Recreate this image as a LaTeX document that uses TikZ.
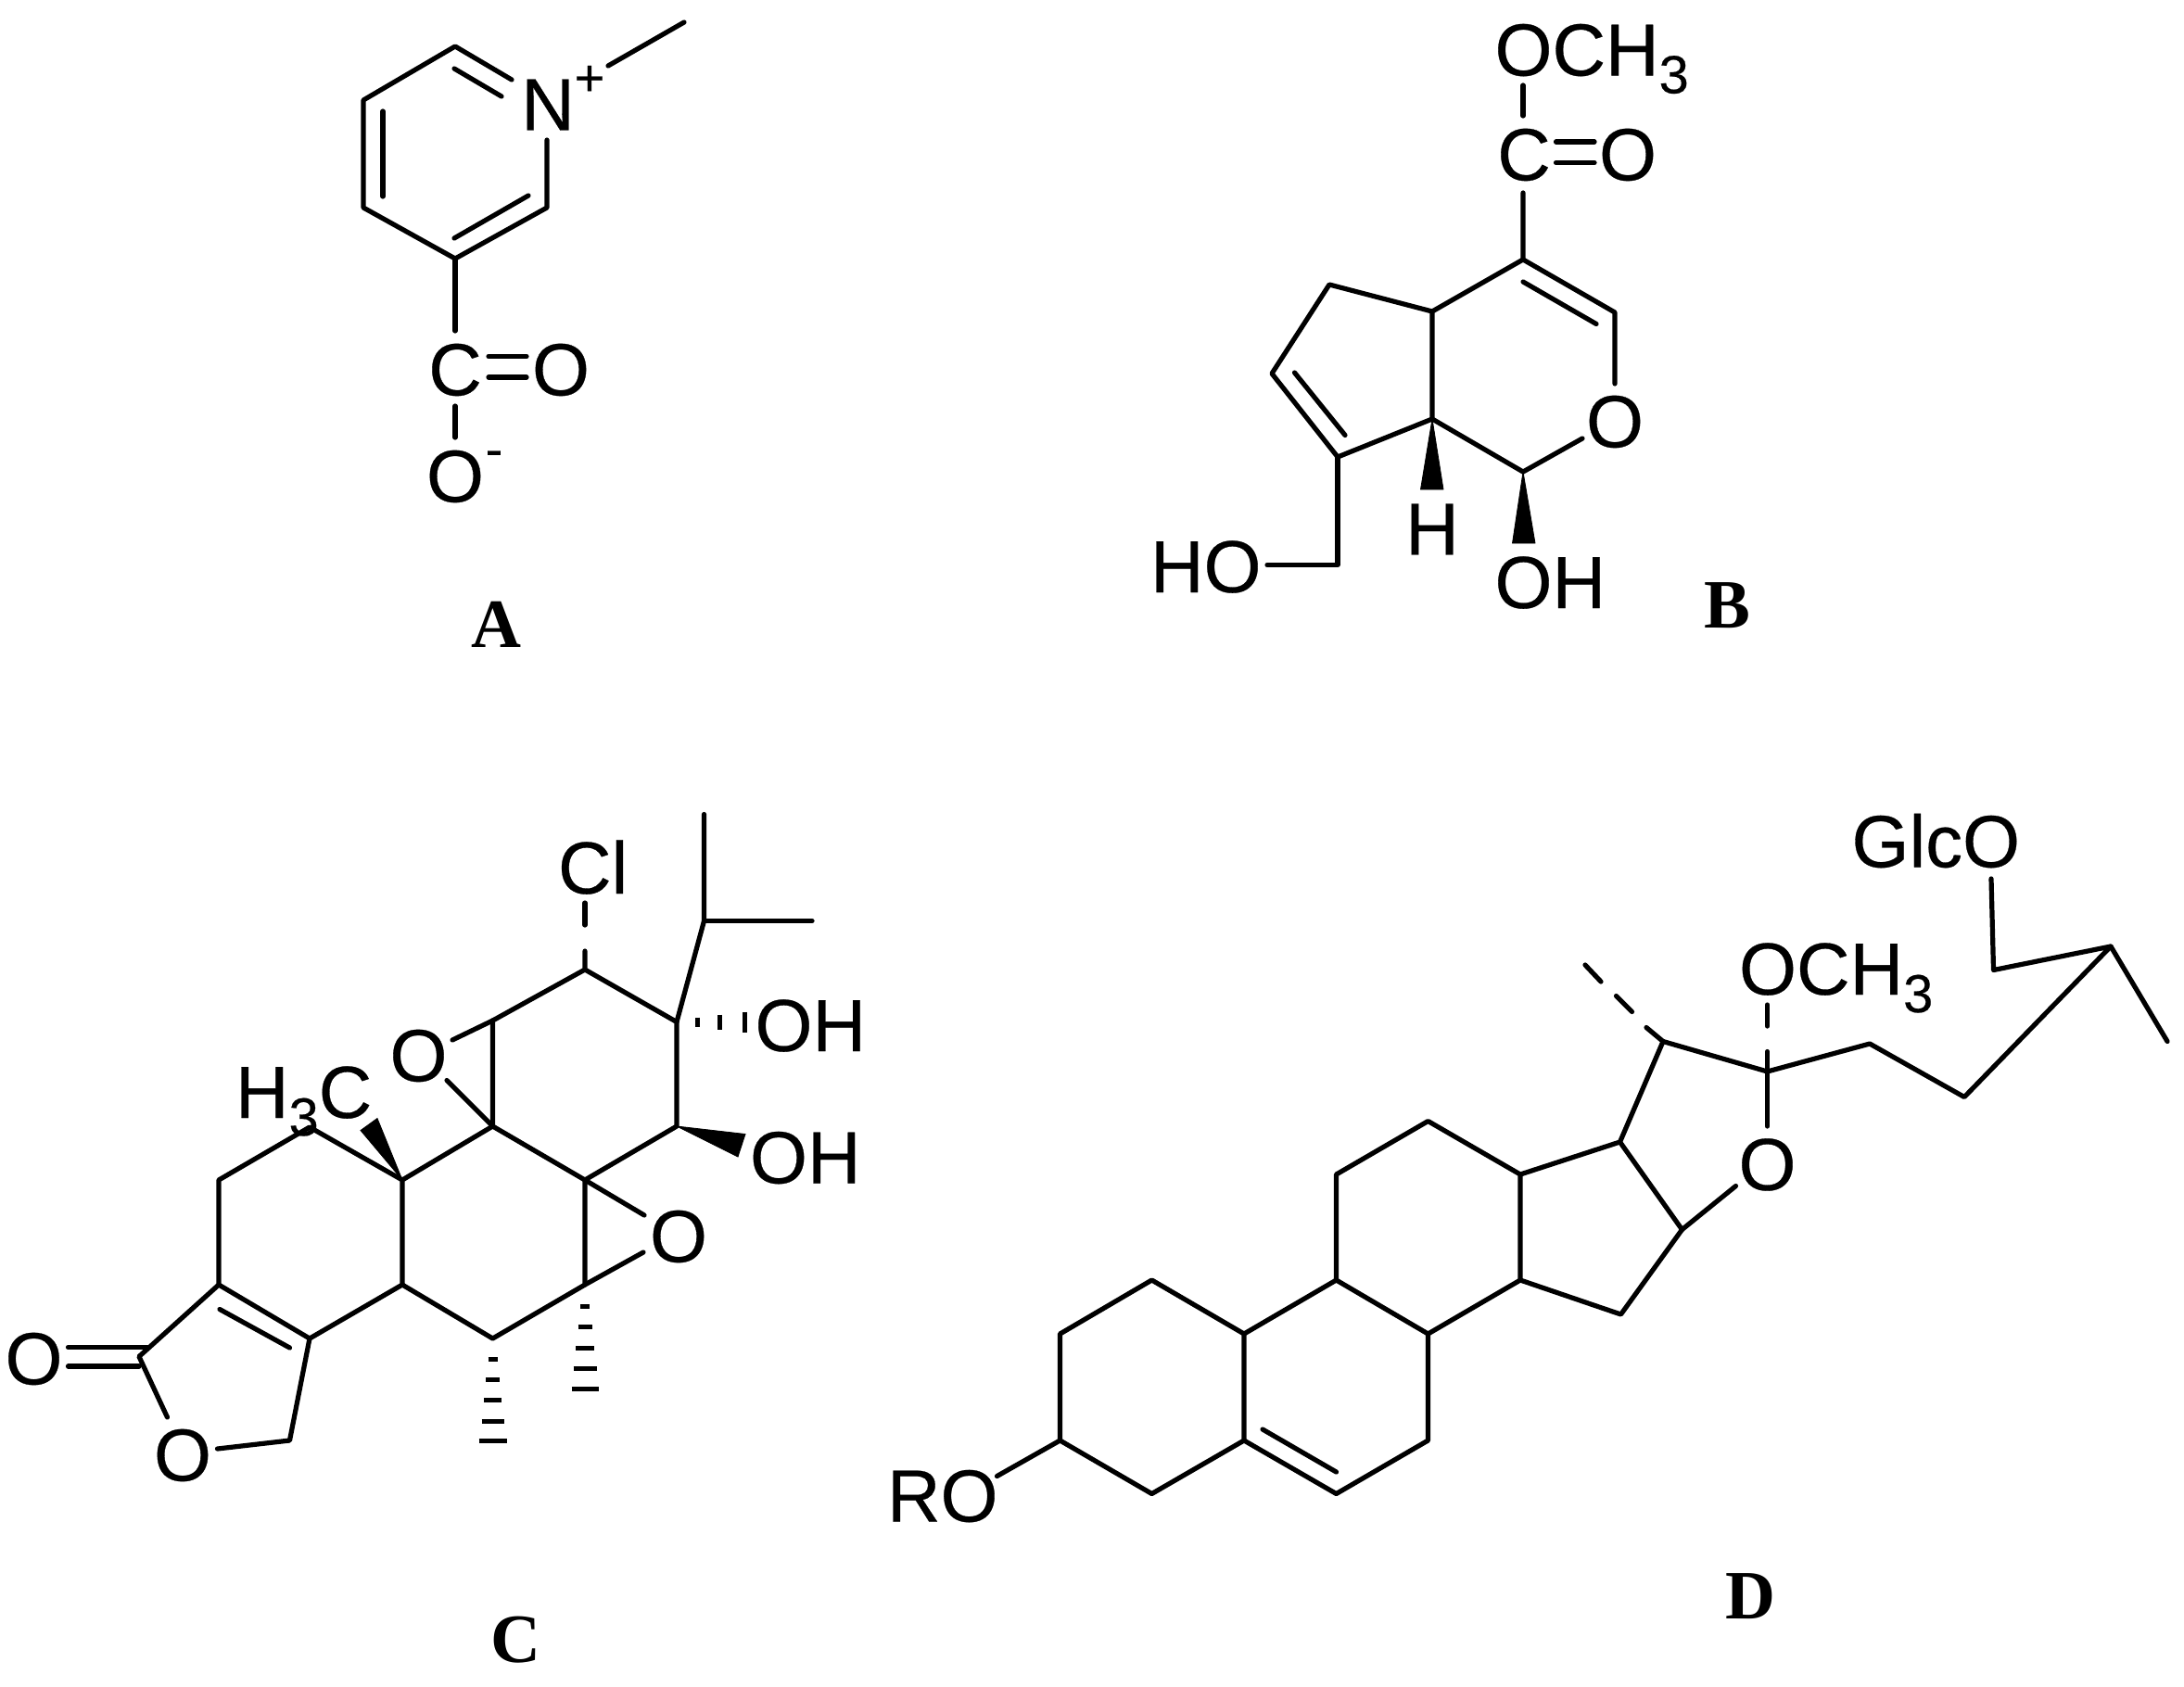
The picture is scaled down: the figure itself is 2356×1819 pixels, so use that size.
\documentclass[tikz,border=0pt]{standalone}
\usepackage{fontspec}
\setmainfont{Liberation Sans}[RawFeature={embolden=0.35}]
\newfontfamily\lblfont{Liberation Serif}
\newcommand{\atomsize}{\fontsize{80}{82}\selectfont}
\newcommand{\subthree}{\raisebox{-19bp}{\fontsize{58}{58}\selectfont 3}}
\tikzset{
  bond/.style={line width=5.2bp,line cap=round,line join=round,black},
  hashbar/.style={line width=5bp,line cap=butt,black},
  wedgefill/.style={fill=black,draw=black,line width=0.8bp,line join=miter},
  atom/.style={inner sep=0pt,outer sep=0pt,font=\atomsize,text=black},
  atomtext/.style={atom,anchor=base west},
  charge/.style={inner sep=0pt,outer sep=0pt,font=\fontsize{56}{58}\selectfont,text=black},
  panel/.style={inner sep=0pt,outer sep=0pt,font=\lblfont\bfseries\fontsize{75}{78}\selectfont,text=black}
}
\newcommand{\pts}[1]{\foreach \n/\x/\y in {#1} {\coordinate (\n) at (\x,\y);}}
\begin{document}
\begin{tikzpicture}[x=1bp,y=-1bp]
\useasboundingbox (0,0) rectangle (2356,1819);
\fill[white] (0,0) rectangle (2356,1819);

%% ---------- A ----------
\pts{a1/491/50,a2/392/108,a3/392/224,a4/491/279,a5/590/224,a6/590/151,a7/552/86,
a8/490/74,a9/541/104,a10/413/120,a11/413/212,a12/490/257,a13/570/211,
a14/656/71,a15/738/24,a16/491/357,a17/527/384.5,a18/568/384.5,a19/527/407,a20/568/407,a21/491/438,a22/491/472}
\node[atom] (aN) at (591,113) {N};
\node[charge] (aPlus) at (636,87) {+};
\node[atom] (aC) at (491,399) {C};
\node[atom] (aO) at (605,399) {O};
\node[atom] (aOm) at (491,514) {O};
\node[charge] (aMinus) at (533,495) {-};
\node[panel] (lblA) at (535,673.5) {A};
\draw[bond] (a7) -- (a1) -- (a2) -- (a3) -- (a4) -- (a5) -- (a6);
\draw[bond] (a8) -- (a9);
\draw[bond] (a10) -- (a11);
\draw[bond] (a12) -- (a13);
\draw[bond] (a14) -- (a15);
\draw[bond] (a4) -- (a16);
\draw[bond] (a17) -- (a18);
\draw[bond] (a19) -- (a20);
\draw[bond] (a21) -- (a22);

%% ---------- B ----------
\pts{b1/1643/92,b2/1643/125,b3/1643/208,b4/1643/280,b5/1742/337,b6/1742/414,b7/1707/473,b8/1643/509,
b9/1545/452,b10/1545/336,b11/1434/307,b12/1372/403,b13/1443/493,b14/1443/609.5,b15/1367/609.5,
b16/1643/304,b17/1722/349.5,b18/1396.5/402,b19/1451/469.5,
b20/1678.5/153,b21/1720/153,b22/1678.5/175.5,b23/1720/175.5,
b24/1532.5/528,b25/1557/528,b26/1631.5/586,b27/1656/586}
\node[atomtext] (bOCH) at (1612.5,81.5) {OCH\subthree};
\node[atom] (bC) at (1644,167) {C};
\node[atom] (bO1) at (1756,167) {O};
\node[atom] (bO2) at (1742,455) {O};
\node[atom] (bH) at (1545,571) {H};
\node[atomtext] (bOH) at (1612.5,656) {OH};
\node[atomtext] (bHO) at (1241,639) {HO};
\node[panel] (lblB) at (1863,653) {B};
\draw[bond] (b1) -- (b2);
\draw[bond] (b3) -- (b4) -- (b5) -- (b6);
\draw[bond] (b7) -- (b8) -- (b9) -- (b10) -- (b4);
\draw[bond] (b10) -- (b11) -- (b12) -- (b13) -- (b9);
\draw[bond] (b13) -- (b14) -- (b15);
\draw[bond] (b16) -- (b17);
\draw[bond] (b18) -- (b19);
\draw[bond] (b20) -- (b21);
\draw[bond] (b22) -- (b23);
\draw[wedgefill] (b9) -- (b24) -- (b25) -- cycle;
\draw[wedgefill] (b8) -- (b26) -- (b27) -- cycle;

%% ---------- C ----------
\pts{c1/631/1046,c2/730/1102.5,c3/730/1215,c4/631/1273,c5/531.5/1215,c6/531.5/1101,
c7/434/1273,c8/334/1216,c9/236/1273,c10/236/1386,c11/334/1444,c12/434/1386,c13/531.5/1444,c14/631/1386,
c15/150/1463.5,c16/312.5/1554,c17/234.5/1563,c18/180.5/1529,
c19/488/1122,c20/482/1165.5,c21/695/1311,c22/694/1351,
c23/759.5/993.5,c24/759.5/878.5,c25/876/993.5,c26/631/974,c27/631/998,c28/631/1026,
c29/73.5/1453.5,c30/159/1453.5,c31/73.5/1474,c32/150/1474,c33/237/1412.5,c34/312.5/1454,
c35/804/1223.5,c36/796/1248,c37/407/1206.5,c38/389/1219.5}
\node[atomtext] (cCl) at (602,964) {Cl};
\node[atomtext] (cOH1) at (814.5,1134) {OH};
\node[atomtext] (cOH2) at (809,1276.5) {OH};
\node[atomtext] (cH3C) at (254,1206) {H\subthree C};
\node[atom] (cO1) at (451.5,1139) {O};
\node[atom] (cO2) at (732,1334) {O};
\node[atom] (cO3) at (197,1570) {O};
\node[atom] (cO4) at (36.5,1466) {O};
\node[panel] (lblC) at (556.5,1769.5) {C};
\draw[bond] (c28) -- (c1) -- (c2) -- (c3) -- (c4) -- (c5) -- (c6) -- (c1);
\draw[bond] (c26) -- (c27);
\draw[bond] (c2) -- (c23) -- (c24);
\draw[bond] (c23) -- (c25);
\draw[bond] (c6) -- (c19);
\draw[bond] (c5) -- (c20);
\draw[bond] (c5) -- (c7) -- (c8) -- (c9) -- (c10) -- (c11) -- (c12) -- (c7);
\draw[bond] (c12) -- (c13) -- (c14) -- (c4);
\draw[bond] (c4) -- (c21);
\draw[bond] (c14) -- (c22);
\draw[bond] (c10) -- (c15) -- (c18);
\draw[bond] (c11) -- (c16) -- (c17);
\draw[bond] (c29) -- (c30);
\draw[bond] (c31) -- (c32);
\draw[bond] (c33) -- (c34);
\draw[wedgefill] (c3) -- (c35) -- (c36) -- cycle;
\draw[wedgefill] (c7) -- (c37) -- (c38) -- cycle;
%% hashed wedges
\foreach \bx/\h in {752/5,776.5/8,803.5/11}
  \draw[hashbar] (\bx,1102.5-\h) -- (\bx,1102.5+\h);
\foreach \by/\w in {1466/5,1488/7.5,1510.5/9.5,1533/12,1554.5/15}
  \draw[hashbar] (531.5-\w,\by) -- (531.5+\w,\by);
\foreach \by/\w in {1409/5,1431/7.5,1454/10,1476/12.5,1498/14.5}
  \draw[hashbar] (631-\w,\by) -- (631+\w,\by);

%% ---------- D ----------
\pts{d1/1143.5/1554,d2/1143.5/1439,d3/1242.5/1381,d4/1342/1439,d5/1342/1554,d6/1242.5/1611.5,
d7/1441.5/1611.5,d8/1540.5/1554,d9/1540.5/1439,d10/1441.5/1381,d11/1441.5/1267,d12/1540.5/1209.5,
d13/1640/1267,d14/1640/1381,d15/1748.5/1418,d16/1814.5/1326.5,d17/1747.5/1232,d18/1794/1123.5,
d19/1906.5/1156,d20/2017/1126,d21/2119/1183.5,d22/2277/1021,d23/2150.5/1046.5,d24/2148/948,d25/2338/1123.5,
d26/1872.5/1279.5,d27/1906.5/1215,d28/1906.5/1134.5,d29/1906.5/1084,d30/1906.5/1107,
d31/1075.5/1592.5,d32/1362/1542,d33/1441.5/1588,
d34/1710/1041,d35/1727/1059,d36/1743.5/1074.5,d37/1760.5/1091.5,d38/1776/1108.5}
\node[atomtext] (dOCH) at (1876,1073) {OCH\subthree};
\node[atomtext] (dGlc) at (1997.5,935.5) {GlcO};
\node[atomtext] (dRO) at (957,1641.5) {RO};
\node[atom] (dO) at (1906.5,1256.5) {O};
\node[panel] (lblD) at (1888.5,1722) {D};
\draw[bond] (d31) -- (d1) -- (d2) -- (d3) -- (d4) -- (d5) -- (d6) -- (d1);
\draw[bond] (d5) -- (d7) -- (d8) -- (d9);
\draw[bond] (d4) -- (d10) -- (d9);
\draw[bond] (d10) -- (d11) -- (d12) -- (d13) -- (d14) -- (d9);
\draw[bond] (d14) -- (d15) -- (d16) -- (d17) -- (d13);
\draw[bond] (d17) -- (d18) -- (d19) -- (d20) -- (d21) -- (d22) -- (d23) -- (d24);
\draw[bond] (d22) -- (d25);
\draw[bond] (d16) -- (d26);
\draw[bond] (d27) -- (d19) -- (d28);
\draw[bond] (d29) -- (d30);
\draw[bond] (d32) -- (d33);
\draw[bond] (d34) -- (d35);
\draw[bond] (d36) -- (d37);
\draw[bond] (d38) -- (d18);
\end{tikzpicture}
\end{document}
